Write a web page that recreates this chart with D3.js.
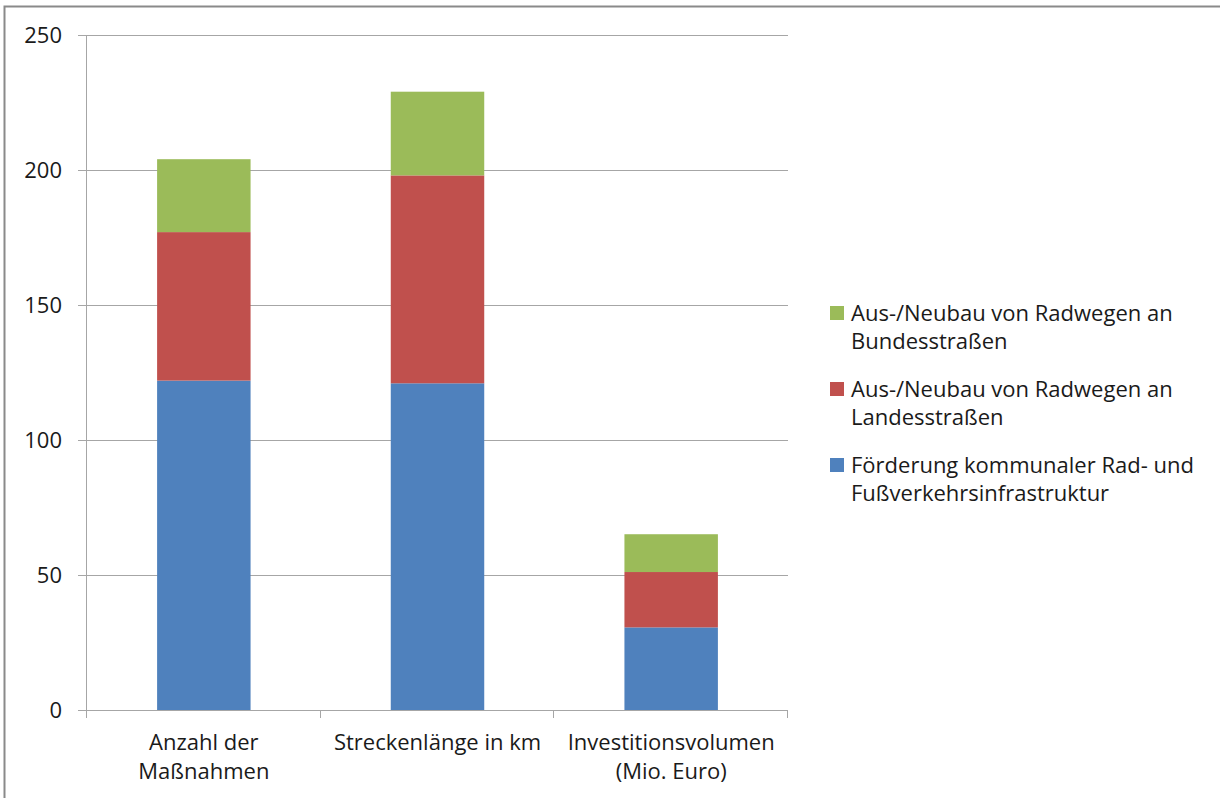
<!DOCTYPE html>
<html>
<head>
<meta charset="utf-8">
<script src="https://cdn.jsdelivr.net/npm/d3@7"></script>
<style>
  body { margin: 0; background: #fff; }
  svg { display: block; }
  text { font-family: "Open Sans", sans-serif; fill: #1a1a1a; }
</style>
</head>
<body>
<div id="chart"></div>
<script>
// categories (each is two lines of label)
const categories = [
  ["Anzahl der", "Maßnahmen"],
  ["Streckenlänge in km"],
  ["Investitionsvolumen", "(Mio. Euro)"]
];
// series, bottom to top
const seriesNames = [
  "Förderung kommunaler Rad- und Fußverkehrsinfrastruktur",
  "Aus-/Neubau von Radwegen an Landesstraßen",
  "Aus-/Neubau von Radwegen an Bundesstraßen"
];
const legendLines = [
  ["Förderung kommunaler Rad- und", "Fußverkehrsinfrastruktur"],
  ["Aus-/Neubau von Radwegen an", "Landesstraßen"],
  ["Aus-/Neubau von Radwegen an", "Bundesstraßen"]
];
const kommunal = [122, 121, 30.6];
const landes   = [55, 77, 20.5];
const bundes   = [27, 31, 14];
const yTicks = [0, 50, 100, 150, 200, 250];
const colors = ["#4F81BD", "#C0504D", "#9BBB59"];

const width = 1220, height = 798;
const margin = {top: 35, left: 87, right: 432, bottom: 88};
const plotW = width - margin.left - margin.right;   // 701
const plotH = height - margin.top - margin.bottom;  // 675
const fontSize = "22px";

const svg = d3.select("#chart").append("svg")
  .attr("width", width)
  .attr("height", height);

// outer frame of the chart area (only top and left visible)
svg.append("rect")
  .attr("x", 4.5).attr("y", 6.5)
  .attr("width", width + 10).attr("height", height + 10)
  .attr("fill", "none")
  .attr("stroke", "#8a8a8a")
  .attr("stroke-width", 2);

const g = svg.append("g")
  .attr("transform", `translate(${margin.left},${margin.top})`);

const x = d3.scaleBand()
  .domain(d3.range(categories.length))
  .range([0, plotW])
  .paddingInner(0.6)
  .paddingOuter(0.3);
const band = plotW / categories.length;

const y = d3.scaleLinear().domain([0, 250]).range([plotH, 0]);

// gridlines + y labels
g.selectAll(".grid").data(yTicks).join("line")
  .attr("class", "grid")
  .attr("x1", -9).attr("x2", plotW)
  .attr("y1", d => Math.round(y(d)) + 0.5).attr("y2", d => Math.round(y(d)) + 0.5)
  .attr("stroke", "#a6a6a6").attr("stroke-width", 1);

g.selectAll(".ylab").data(yTicks).join("text")
  .attr("class", "ylab")
  .attr("x", -25).attr("y", d => y(d))
  .attr("dy", "0.35em")
  .attr("text-anchor", "end")
  .style("font-size", fontSize)
  .text(d => d);

// y axis line
g.append("line")
  .attr("x1", -0.5).attr("x2", -0.5)
  .attr("y1", 0).attr("y2", plotH)
  .attr("stroke", "#a6a6a6");

// category ticks below baseline
g.selectAll(".xtick").data(d3.range(categories.length + 1)).join("line")
  .attr("class", "xtick")
  .attr("x1", d => Math.round(d * band) - 0.5).attr("x2", d => Math.round(d * band) - 0.5)
  .attr("y1", plotH).attr("y2", plotH + 8)
  .attr("stroke", "#a6a6a6");

// stacked bars
const rows = categories.map((c, i) => ({i, k: kommunal[i], l: landes[i], b: bundes[i]}));
const stacked = d3.stack().keys(["k", "l", "b"])(rows);

g.selectAll(".series").data(stacked).join("g")
  .attr("class", "series")
  .attr("fill", (d, i) => colors[i])
  .selectAll("rect").data(d => d).join("rect")
  .attr("x", d => x(d.data.i))
  .attr("width", x.bandwidth())
  .attr("y", d => y(d[1]))
  .attr("height", d => y(d[0]) - y(d[1]));

// category labels
const catG = g.selectAll(".cat").data(categories).join("text")
  .attr("class", "cat")
  .attr("text-anchor", "middle")
  .style("font-size", fontSize)
  .attr("transform", (d, i) => `translate(${(i + 0.5) * band},${plotH + 40})`);
catG.selectAll("tspan").data(d => d).join("tspan")
  .attr("x", 0)
  .attr("dy", (d, i) => i === 0 ? 0 : 29)
  .text(d => d);

// legend (top entry is the top series)
const legend = svg.append("g").attr("transform", "translate(830,313)");
const order = [2, 1, 0];
const item = legend.selectAll(".item").data(order).join("g")
  .attr("class", "item")
  .attr("transform", (d, i) => `translate(0,${i * 76})`);
item.append("rect")
  .attr("x", 0).attr("y", -7)
  .attr("width", 14).attr("height", 14)
  .attr("fill", d => colors[d]);
const lt = item.append("text")
  .attr("x", 21).attr("y", 0)
  .style("font-size", fontSize);
lt.selectAll("tspan").data(d => legendLines[d]).join("tspan")
  .attr("x", 21)
  .attr("dy", (d, i) => i === 0 ? "0.35em" : 28)
  .text(d => d);
</script>
</body>
</html>
